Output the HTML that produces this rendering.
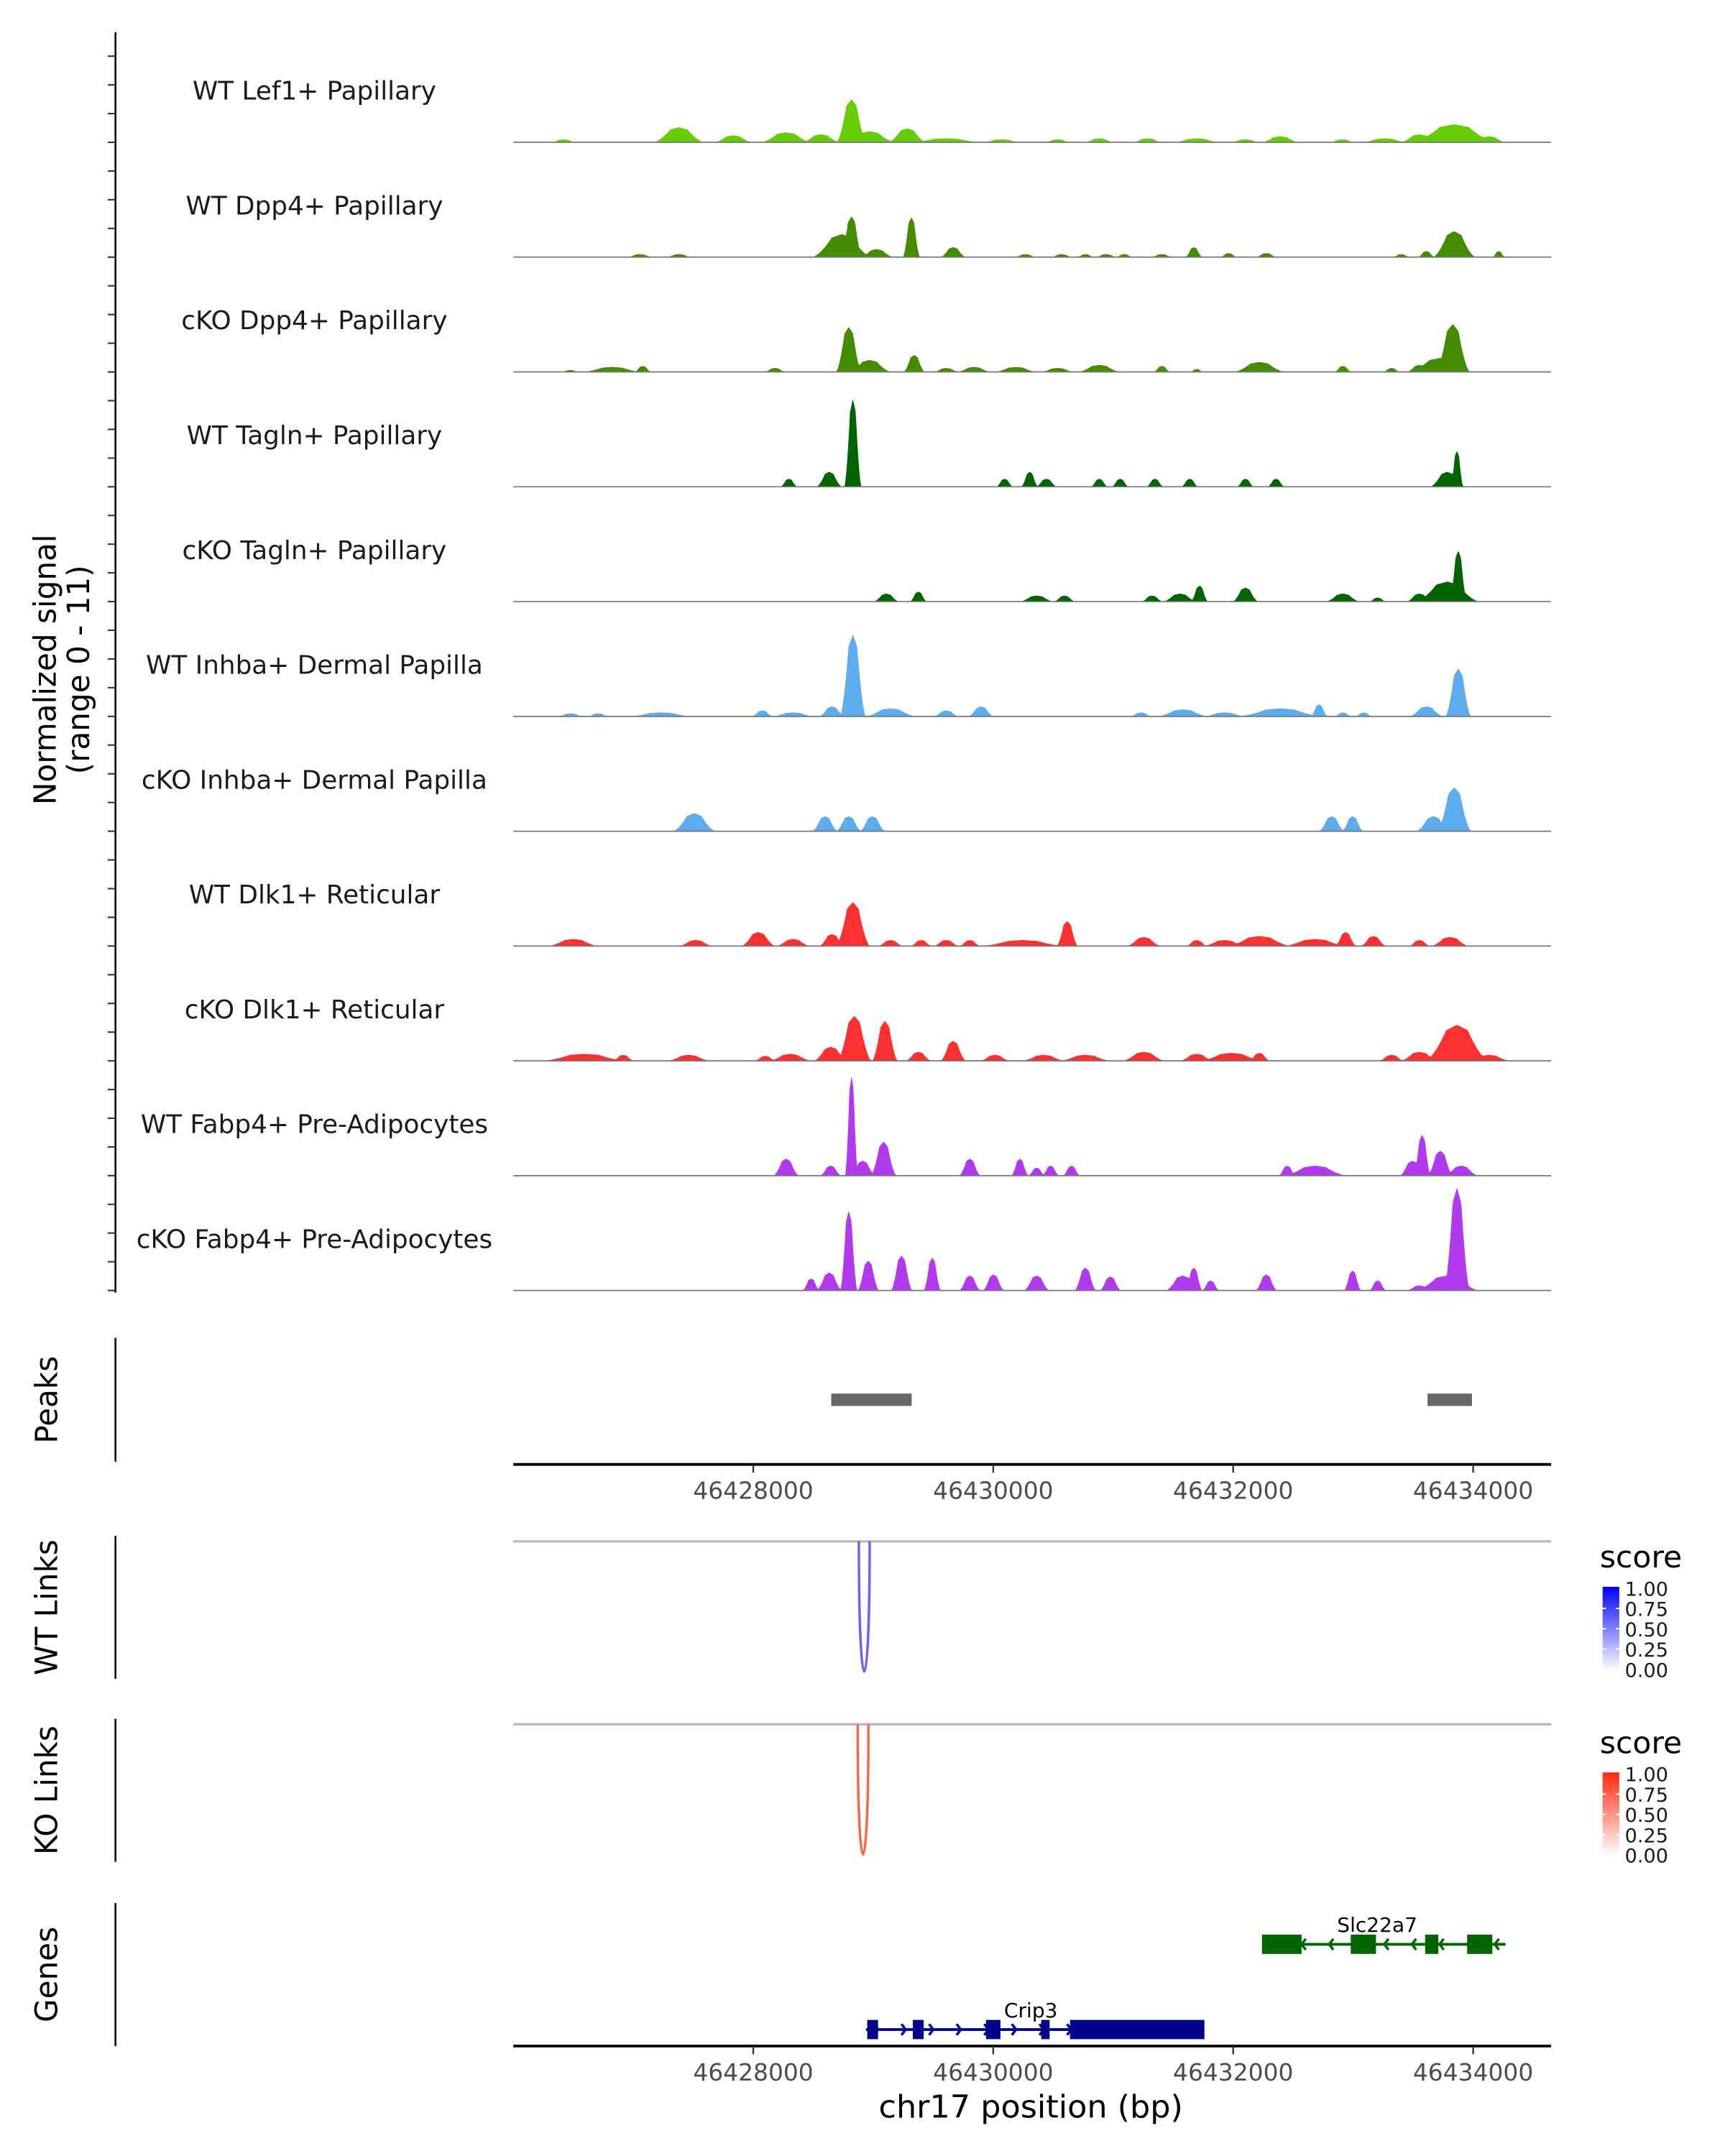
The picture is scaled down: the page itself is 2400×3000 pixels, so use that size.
<!DOCTYPE html>
<html><head><meta charset="utf-8">
<style>
html,body{margin:0;padding:0;background:#fff;}
svg{display:block;}
text{font-family:"DejaVu Sans","Liberation Sans",sans-serif;}
</style></head>
<body>
<svg id="chart" width="2400" height="3000" viewBox="0 0 2400 3000" xmlns="http://www.w3.org/2000/svg">
<g id="root" transform="scale(1.9355,1.9133)"></g>
</svg>
<script>
// ---------- DATA ----------
const regionStart = 46426000;
const regionEnd = 46434650;
const yMax = 11;
const trackNames = ["WT Lef1+ Papillary","WT Dpp4+ Papillary","cKO Dpp4+ Papillary","WT Tagln+ Papillary","cKO Tagln+ Papillary","WT Inhba+ Dermal Papilla","cKO Inhba+ Dermal Papilla","WT Dlk1+ Reticular","cKO Dlk1+ Reticular","WT Fabp4+ Pre-Adipocytes","cKO Fabp4+ Pre-Adipocytes"];
const trackColors = ["#66cd00","#458b00","#458b00","#006400","#006400","#5cacee","#5cacee","#ff3030","#ff3030","#b23aee","#b23aee"];
// peaks per track: positions (bp offset from regionStart), half-widths (bp), values (signal)
const pos0 = [418,1380,1833,2274,2564,2819,2970,3283,3608,4072,4536,4884,5287,5696,6102,6392,6910,7262,7552,7842,8132];
const wid0 = [60,120,90,120,90,70,120,90,170,90,60,70,70,110,70,90,60,110,90,200,80];
const val0 = [0.3,1.5,0.7,1.0,0.8,4.3,1.1,1.4,0.4,0.3,0.3,0.4,0.4,0.4,0.3,0.6,0.3,0.4,0.8,1.8,0.6];
const pos1 = [1056,1380,2738,2819,3028,3318,3666,4269,4570,4768,4942,5092,5406,5672,5962,6276,7401,7610,7842,8213];
const wid1 = [60,60,140,50,80,40,60,50,50,40,50,40,50,40,40,50,40,40,100,30];
const val1 = [0.3,0.3,2.3,4.1,0.8,4.0,1.0,0.3,0.3,0.3,0.3,0.3,0.3,1.0,0.4,0.4,0.3,0.6,2.6,0.6];
const pos2 = [476,824,1079,2181,2796,2970,3341,3608,3840,4188,4536,4884,5406,5696,6218,6914,7320,7552,7830,7726];
const wid2 = [40,140,40,50,60,100,50,60,80,100,80,100,40,30,120,40,40,60,80,150];
const val2 = [0.2,0.5,0.6,0.4,4.5,1.2,1.7,0.4,0.5,0.5,0.4,0.7,0.6,0.3,1.0,0.6,0.4,0.7,4.8,1.4];
const pos3 = [2297,2633,2830,4095,4304,4443,4884,5058,5348,5638,6102,6357,7784,7865];
const wid3 = [40,60,40,40,40,50,40,40,40,40,40,40,80,30];
const val3 = [0.8,1.5,8.8,0.8,1.5,0.8,0.8,0.8,0.8,0.8,0.8,0.8,1.5,3.6];
const pos4 = [3109,3376,4362,4594,5324,5556,5719,6102,6914,7204,7552,7784,7876];
const wid4 = [60,40,80,50,50,80,40,60,80,40,60,150,40];
const val4 = [0.8,1.0,0.6,0.6,0.6,0.8,1.6,1.4,0.8,0.4,0.8,2.0,5.1];
const pos5 = [476,708,1230,2076,2332,2656,2830,3144,3608,3898,5232,5580,5928,6392,6716,6914,7088,7610,7876];
const wid5 = [60,50,150,50,100,60,60,120,60,60,50,120,100,200,40,40,40,80,60];
const val5 = [0.3,0.3,0.4,0.6,0.4,1.0,8.2,0.8,0.6,1.0,0.4,0.7,0.4,0.8,1.2,0.4,0.4,1.0,4.8];
const pos6 = [1508,2598,2796,2993,6821,6995,7668,7842];
const wid6 = [100,60,60,60,60,50,80,80];
const val6 = [1.8,1.5,1.5,1.5,1.5,1.5,1.5,4.4];
const pos7 = [499,1520,2042,2332,2656,2830,3144,3399,3608,3805,4246,4617,5255,5696,5928,6218,6682,6937,7169,7552,7807];
const wid7 = [120,80,80,80,60,80,60,50,60,50,200,50,80,50,100,150,150,50,60,50,90];
const val7 = [0.7,0.6,1.4,0.7,1.2,4.4,0.6,0.6,0.6,0.6,0.6,2.5,0.9,0.6,0.6,1.0,0.7,1.4,1.0,0.6,0.9];
const pos8 = [592,916,1462,2100,2308,2645,2842,3097,3376,3666,4014,4420,4768,5255,5696,5986,6218,7320,7552,7865,8132];
const wid8 = [200,50,100,50,100,80,80,60,60,60,70,100,120,100,80,150,50,60,90,150,100];
const val8 = [0.7,0.6,0.6,0.5,0.7,1.4,4.5,4.0,0.9,2.0,0.6,0.6,0.6,0.9,0.7,0.8,0.8,0.6,0.9,3.6,0.6];
const pos9 = [2274,2645,2819,2912,3086,3805,4222,4362,4478,4652,6450,6682,7494,7575,7726,7900];
const wid9 = [60,50,30,60,60,50,40,40,40,40,40,150,60,40,60,80];
const val9 = [1.7,1.0,10.0,1.5,3.4,1.7,1.7,0.8,1.0,1.0,1.0,1.0,1.5,4.1,2.5,1.0];
const pos10 = [2482,2633,2796,2958,3236,3492,3805,4002,4362,4768,4976,5580,5672,5812,6276,6995,7204,7552,7865,7784];
const wid10 = [40,60,40,50,50,40,50,50,60,50,50,80,40,40,50,40,40,60,60,150];
const val10 = [1.2,1.8,8.0,3.0,3.5,3.3,1.5,1.6,1.5,2.3,1.4,1.5,2.3,1.0,1.6,2.0,1.0,0.5,10.3,1.5];
const trackPos = [pos0,pos1,pos2,pos3,pos4,pos5,pos6,pos7,pos8,pos9,pos10];
const trackWid = [wid0,wid1,wid2,wid3,wid4,wid5,wid6,wid7,wid8,wid9,wid10];
const trackVal = [val0,val1,val2,val3,val4,val5,val6,val7,val8,val9,val10];

const peakStarts = [46428650, 46433620];
const peakEnds = [46429320, 46433990];
const axisTicks = [46428000, 46430000, 46432000, 46434000];
const wtLinkStart = 46428880, wtLinkEnd = 46428970, wtLinkScore = 0.6;
const koLinkStart = 46428870, koLinkEnd = 46428960, koLinkScore = 0.7;
const legendTicks = ["1.00","0.75","0.50","0.25","0.00"];

const slcStart = 46432240, slcEnd = 46434270;
const slcExonStarts = [46432240, 46432980, 46433600, 46433950];
const slcExonEnds = [46432570, 46433190, 46433710, 46434160];
const cripStart = 46428940, cripEnd = 46431760;
const cripExonStarts = [46428950, 46429330, 46429940, 46430400, 46430640];
const cripExonEnds = [46429040, 46429420, 46430060, 46430470, 46431760];

// ---------- SCALES ----------
const X0 = 369, X1 = 1115;
function xs(bp){ return X0 + (bp - regionStart) / (regionEnd - regionStart) * (X1 - X0); }
const base0 = 103.5, trackStep = 83.5, trackH = 80;
function ys(v, i){ return base0 + i*trackStep - v / yMax * trackH; }

const NS = "http://www.w3.org/2000/svg";
const root = document.getElementById('root');
function el(tag, attrs, parent){
  const e = document.createElementNS(NS, tag);
  for (const k in attrs) e.setAttribute(k, attrs[k]);
  (parent||root).appendChild(e);
  return e;
}
function txt(s, attrs, parent){ const t = el('text', attrs, parent); t.textContent = s; return t; }

// left axis for coverage
const axisG = el('g', {});


el('line', {x1:83, y1:23.5, x2:83, y2:940, stroke:'#000', 'stroke-width':1.3}, axisG);
for (let i = 0; i < trackNames.length; i++) {
  for (let k = 0; k < 4; k++) {
    const y = base0 + i*trackStep - k*trackStep/4;
    el('line', {x1:77.5, y1:y, x2:83, y2:y, stroke:'#333', 'stroke-width':1.1}, axisG);
  }
}
const yt = txt('', {transform:'translate(40,487) rotate(-90)', 'text-anchor':'middle', 'font-size':22, fill:'#000'});


el('tspan', {x:0, dy:0}, yt).textContent = 'Normalized signal';
el('tspan', {x:0, dy:24}, yt).textContent = '(range 0 - 11)';

// tracks
for (let i = 0; i < trackNames.length; i++) {
  const g = el('g', {});
  
  
  const pos = trackPos[i], wid = trackWid[i], val = trackVal[i];
  let d = 'M' + X0 + ',' + ys(0,i);
  for (let px = X0; px <= X1; px += 0.5) {
    const bp = regionStart + (px - X0) / (X1 - X0) * (regionEnd - regionStart);
    let v = 0;
    for (let j = 0; j < pos.length; j++) {
      const dd = Math.abs(bp - (regionStart + pos[j]));
      let f = 0;
      if (dd < wid[j]*0.6) f = 1 - 0.15*(dd/(wid[j]*0.6));
      else if (dd < wid[j]*1.8) f = 0.85*Math.pow(1 - (dd - wid[j]*0.6)/(wid[j]*1.2), 1.6);
      v = Math.max(v, val[j]*f);
    }
    d += ' L' + px.toFixed(1) + ',' + ys(v,i).toFixed(2);
  }
  d += ' L' + X1 + ',' + ys(0,i) + ' Z';
  const p = el('path', {d:d, fill:trackColors[i], stroke:'none'}, g);
  
  
  el('line', {x1:X0, y1:ys(0,i), x2:X1, y2:ys(0,i), stroke:'#777', 'stroke-width':0.9}, g);
  const t = txt(trackNames[i], {x:226, y:ys(0,i)-31, 'text-anchor':'middle', 'font-size':18.5, fill:'#1a1a1a'}, g);
  
  
}

// peaks panel
const pkG = el('g', {});


el('line', {x1:83, y1:973, x2:83, y2:1063, stroke:'#000', 'stroke-width':1.3}, pkG);
const pkt = txt('Peaks', {transform:'translate(41,1018) rotate(-90)', 'text-anchor':'middle', 'font-size':22}, pkG);


for (let j = 0; j < peakStarts.length; j++) {
  const r = el('rect', {x:xs(peakStarts[j]), y:1013.5, width:xs(peakEnds[j])-xs(peakStarts[j]), height:9, fill:'#666'}, pkG);
  
  
}
function xAxis(y, name){
  const g = el('g', {});
  
  
  el('line', {x1:X0, y1:y, x2:X1, y2:y, stroke:'#000', 'stroke-width':2}, g);
  axisTicks.forEach(tk => {
    el('line', {x1:xs(tk), y1:y, x2:xs(tk), y2:y+6, stroke:'#333', 'stroke-width':1.2}, g);
    const t = txt(String(tk), {x:xs(tk), y:y+25, 'text-anchor':'middle', 'font-size':17, fill:'#4d4d4d'}, g);
    
    
  });
}
xAxis(1065, 'peaks-x-axis');

// links
function linkPanel(top, label, lstart, lend, score, colHi, colLine, legendY, name){
  const g = el('g', {});
  
  
  el('line', {x1:83, y1:top-4, x2:83, y2:top+100, stroke:'#000', 'stroke-width':1.3}, g);
  const t = txt(label, {transform:'translate(41,'+(top+48)+') rotate(-90)', 'text-anchor':'middle', 'font-size':22}, g);
  
  
  el('line', {x1:X0, y1:top, x2:X1, y2:top, stroke:'#bbb', 'stroke-width':1.8}, g);
  const a = xs(lstart), b = xs(lend), depth = 95;
  const arc = el('path', {d:'M'+a+','+top+' C'+a+','+(top+depth*1.33)+' '+b+','+(top+depth*1.33)+' '+b+','+top, fill:'none', stroke:colLine, 'stroke-width':1.8}, g);
  
  
  const lg = el('g', {});
  
  
  txt('score', {x:1150, y:legendY, 'font-size':22}, lg);
  const gid = 'grad' + name;
  const defs = el('defs', {}, lg);
  const lgd = el('linearGradient', {id:gid, x1:0, y1:1, x2:0, y2:0}, defs);
  el('stop', {offset:0, 'stop-color':'#ffffff'}, lgd);
  el('stop', {offset:1, 'stop-color':colHi}, lgd);
  const bTop = legendY + 14, bH = 61;
  el('rect', {x:1152, y:bTop, width:12, height:bH, fill:'url(#'+gid+')'}, lg);
  legendTicks.forEach((s, k) => {
    const yy = bTop + 1 + k*(bH-2)/4;
    if (k>0 && k<4) { el('line', {x1:1152, y1:yy, x2:1154.5, y2:yy, stroke:'#fff'}, lg); el('line', {x1:1161.5, y1:yy, x2:1164, y2:yy, stroke:'#fff'}, lg); }
    txt(s, {x:1168, y:yy+5.5, 'font-size':14, fill:'#1a1a1a'}, lg);
  });
}
linkPanel(1121, 'WT Links', wtLinkStart, wtLinkEnd, wtLinkScore, '#0000ff', '#7b5cf5', 1140, 'wt-links');
linkPanel(1254, 'KO Links', koLinkStart, koLinkEnd, koLinkScore, '#ff2a10', '#f5694d', 1275, 'ko-links');

// genes
const gg = el('g', {});


el('line', {x1:83, y1:1384, x2:83, y2:1488, stroke:'#000', 'stroke-width':1.3}, gg);
txt('Genes', {transform:'translate(41,1436) rotate(-90)', 'text-anchor':'middle', 'font-size':22}, gg);
function gene(name, s, e, es, ee, y, col, dir, lblX){
  const g = el('g', {}, gg);
  
  
  el('line', {x1:xs(s), y1:y, x2:xs(e), y2:y, stroke:col, 'stroke-width':2}, g);
  for (let bp = s + 100; bp < e; bp += 230) {
    const x = xs(bp);
    el('path', {d:'M'+(x-dir*3)+','+(y-4)+' L'+x+','+y+' L'+(x-dir*3)+','+(y+4), fill:'none', stroke:col, 'stroke-width':1.8}, g);
  }
  for (let j = 0; j < es.length; j++) {
    el('rect', {x:xs(es[j]), y:y-7, width:xs(ee[j])-xs(es[j]), height:14, fill:col}, g);
  }
  const t = txt(name, {x:lblX, y:y-9, 'text-anchor':'middle', 'font-size':14.5, fill:'#000'}, g);
  
  
}
gene('Slc22a7', slcStart, slcEnd, slcExonStarts, slcExonEnds, 1414, '#006400', -1, 990);
gene('Crip3', cripStart, cripEnd, cripExonStarts, cripExonEnds, 1476, '#00008b', 1, 741);
xAxis(1488, 'genes-x-axis');
const xt = txt('chr17 position (bp)', {x:741, y:1540, 'text-anchor':'middle', 'font-size':23});


</script>
</body></html>
